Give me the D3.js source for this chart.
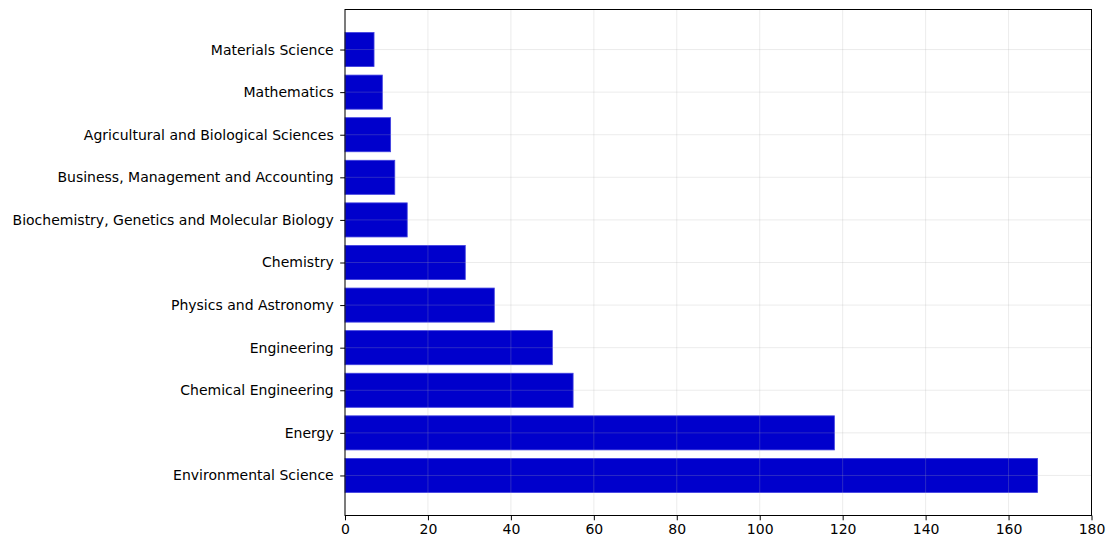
<!DOCTYPE html>
<html><head><meta charset="utf-8">
<script src="https://cdn.jsdelivr.net/npm/d3@7"></script>
<style>body{margin:0;background:#fff}svg{display:block}text{font-family:"DejaVu Sans",sans-serif}</style>
</head><body><svg id="c" width="1107" height="542"></svg>
<script>
const categories = ["Environmental Science","Energy","Chemical Engineering","Engineering","Physics and Astronomy","Chemistry","Biochemistry, Genetics and Molecular Biology","Business, Management and Accounting","Agricultural and Biological Sciences","Mathematics","Materials Science"];
const values = [167,118,55,50,36,29,15,12,11,9,7];
const xTicks = [0,20,40,60,80,100,120,140,160,180];

const svg = d3.select("#c");
const L=345, R=1091.5, T=9.5, B=515.5;
const x = d3.scaleLinear().domain([0,180]).range([L,R]);
const n = categories.length;
const span = (n-1)+0.8, m = 0.05*span;
const y = d3.scaleLinear().domain([-0.4-m, n-1+0.4+m]).range([B,T]);
const bw = Math.abs(y(0.4)-y(-0.4));

svg.append("g").selectAll("rect").data(values).join("rect")
  .attr("x", x(0))
  .attr("y", (d,i)=>y(i+0.4))
  .attr("width", d=>x(d)-x(0))
  .attr("height", bw)
  .attr("fill","#0000cc")
  .attr("stroke","#4040e0").attr("stroke-width",0.8);

const grid = svg.append("g");
grid.selectAll("line.v").data(xTicks).join("line")
  .attr("x1",d=>x(d)).attr("x2",d=>x(d)).attr("y1",T).attr("y2",B)
  .attr("stroke","#b0b0b0").attr("stroke-opacity",0.3).attr("stroke-width",0.8);
grid.selectAll("line.h").data(categories).join("line")
  .attr("y1",(d,i)=>y(i)).attr("y2",(d,i)=>y(i)).attr("x1",L).attr("x2",R)
  .attr("stroke","#b0b0b0").attr("stroke-opacity",0.3).attr("stroke-width",0.8);

svg.append("rect").attr("x",L).attr("y",T).attr("width",R-L).attr("height",B-T)
  .attr("fill","none").attr("stroke","#000").attr("stroke-width",1);

const xa = svg.append("g").attr("transform",`translate(0,${B})`)
  .call(d3.axisBottom(x).tickValues(xTicks).tickSize(4.8).tickPadding(4).tickFormat(d3.format("d")));
xa.select(".domain").remove();
xa.selectAll("text").attr("font-size",14).attr("fill","#000").attr("font-family","DejaVu Sans");

const ya = svg.append("g").attr("transform",`translate(${L},0)`)
  .call(d3.axisLeft(y).tickValues(d3.range(n)).tickSize(4.8).tickPadding(6.5).tickFormat(i=>categories[i]));
ya.select(".domain").remove();
ya.selectAll("text").attr("font-size",14).attr("fill","#000").attr("font-family","DejaVu Sans");
</script></body></html>
